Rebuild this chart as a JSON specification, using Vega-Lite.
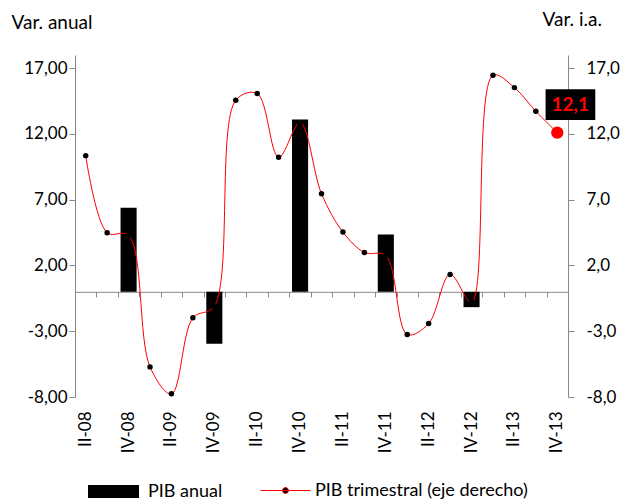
{
  "$schema": "https://vega.github.io/schema/vega-lite/v6.json",
  "autosize": {"type": "none"},
  "width": 493,
  "height": 342,
  "padding": {"left": 75, "top": 55, "right": 52, "bottom": 102},
  "background": "white",
  "config": {
    "font": "Lato",
    "view": {"stroke": null},
    "locale": {"number": {"decimal": ",", "thousands": ".", "grouping": [3], "currency": ["", " €"], "minus": "-"}},
    "axis": {"labelFont": "Lato", "titleFont": "Lato", "labelColor": "black", "titleColor": "black", "domainColor": "#888888", "tickColor": "#888888", "grid": false, "labelFontSize": 17, "titleFontSize": 19, "titleFontWeight": "normal"},
    "legend": {"labelFont": "Lato", "labelFontSize": 18, "labelColor": "black", "padding": 0, "labelLimit": 400}
  },
  "data": {"values": [
    {"q": "II-08", "trim": 10.35, "anual": null},
    {"q": "III-08", "trim": 4.49, "anual": null},
    {"q": "IV-08", "trim": 4.3, "anual": 6.39},
    {"q": "I-09", "trim": -5.71, "anual": null},
    {"q": "II-09", "trim": -7.76, "anual": null},
    {"q": "III-09", "trim": -1.98, "anual": null},
    {"q": "IV-09", "trim": -1.1, "anual": -3.96},
    {"q": "I-10", "trim": 14.56, "anual": null},
    {"q": "II-10", "trim": 15.07, "anual": null},
    {"q": "III-10", "trim": 10.22, "anual": null},
    {"q": "IV-10", "trim": 12.85, "anual": 13.1},
    {"q": "I-11", "trim": 7.46, "anual": null},
    {"q": "II-11", "trim": 4.54, "anual": null},
    {"q": "III-11", "trim": 2.99, "anual": null},
    {"q": "IV-11", "trim": 2.75, "anual": 4.36},
    {"q": "I-12", "trim": -3.25, "anual": null},
    {"q": "II-12", "trim": -2.41, "anual": null},
    {"q": "III-12", "trim": 1.32, "anual": null},
    {"q": "IV-12", "trim": -0.8, "anual": -1.17},
    {"q": "I-13", "trim": 16.46, "anual": null},
    {"q": "II-13", "trim": 15.52, "anual": null},
    {"q": "III-13", "trim": 13.72, "anual": null},
    {"q": "IV-13", "trim": 12.1, "anual": null}
  ]},
  "layer": [
    {
      "mark": {"type": "bar", "width": {"band": 0.75}},
      "encoding": {
        "x": {"field": "q", "type": "nominal",
          "scale": {"domain": ["II-08", "III-08", "IV-08", "I-09", "II-09", "III-09", "IV-09", "I-10", "II-10", "III-10", "IV-10", "I-11", "II-11", "III-11", "IV-11", "I-12", "II-12", "III-12", "IV-12", "I-13", "II-13", "III-13", "IV-13"], "paddingInner": 0, "paddingOuter": 0},
          "axis": {"orient": "bottom", "title": null, "domain": false, "ticks": false, "labelAngle": 270, "labelPadding": 14,
            "values": ["II-08", "IV-08", "II-09", "IV-09", "II-10", "IV-10", "II-11", "IV-11", "II-12", "IV-12", "II-13", "IV-13"]}},
        "y": {"field": "anual", "type": "quantitative",
          "scale": {"domain": [-8, 18], "nice": false, "zero": false},
          "axis": {"orient": "left", "values": [-8, -3, 2, 7, 12, 17], "format": ".2f", "tickSize": 6, "labelPadding": 2,
            "title": "Var. anual", "titleAngle": 0, "titleAlign": "left", "titleBaseline": "alphabetic", "titleX": -64, "titleY": -27}},
        "fill": {"datum": "PIB anual", "scale": {"range": ["black"]},
          "legend": {"orient": "none", "legendX": 12, "legendY": 410, "title": null,
            "symbolType": "M-1,-0.255H1V0.255H-1Z", "symbolSize": 2601, "labelOffset": 8}}
      }
    },
    {
      "mark": {"type": "line", "strokeWidth": 1, "interpolate": "catmull-rom"},
      "encoding": {
        "x": {"field": "q", "type": "nominal",
          "axis": {"orient": "bottom", "title": null, "labels": false, "tickBand": "extent", "tickSize": 5, "offset": -105.2}},
        "y": {"field": "trim", "type": "quantitative",
          "scale": {"domain": [-8, 18], "nice": false, "zero": false},
          "axis": {"orient": "right", "values": [-8, -3, 2, 7, 12, 17], "format": ".1f", "tickSize": 6, "labelPadding": 12,
            "title": "Var. i.a.", "titleAngle": 0, "titleAlign": "left", "titleBaseline": "alphabetic", "titleX": -26, "titleY": -30}},
        "stroke": {"datum": "PIB trimestral (eje derecho)", "scale": {"range": ["red"]},
          "legend": {"orient": "none", "legendX": 185, "legendY": 410, "title": null,
            "symbolType": "M-1,0H1M0.12,0A0.12,0.12,0,1,1,-0.12,0A0.12,0.12,0,1,1,0.12,0Z", "symbolSize": 2500,
            "symbolStrokeWidth": 1, "labelOffset": 4,
            "encode": {"symbols": {"update": {"fill": {"value": "black"}, "stroke": {"value": "red"}}}}}}
      }
    },
    {
      "mark": {"type": "point", "filled": true, "color": "black", "size": 30, "opacity": 1},
      "encoding": {
        "x": {"field": "q", "type": "nominal", "axis": null},
        "y": {"field": "trim", "type": "quantitative", "scale": {"domain": [-8, 18], "nice": false, "zero": false}, "axis": null}
      }
    },
    {
      "transform": [{"filter": "datum.q == 'IV-13'"}],
      "mark": {"type": "point", "filled": true, "color": "red", "size": 154, "opacity": 1},
      "encoding": {
        "x": {"field": "q", "type": "nominal", "axis": null},
        "y": {"field": "trim", "type": "quantitative", "scale": {"domain": [-8, 18], "nice": false, "zero": false}, "axis": null}
      }
    },
    {
      "transform": [{"filter": "datum.q == 'IV-13'"}],
      "mark": {"type": "point", "filled": true, "color": "black", "size": 10000, "opacity": 1,
        "shape": "M-0.234,-0.866H0.76V-0.252H-0.234Z"},
      "encoding": {
        "x": {"field": "q", "type": "nominal", "axis": null},
        "y": {"field": "trim", "type": "quantitative", "scale": {"domain": [-8, 18], "nice": false, "zero": false}, "axis": null}
      }
    },
    {
      "transform": [{"filter": "datum.q == 'IV-13'"}],
      "mark": {"type": "text", "color": "red", "fontWeight": "bold", "fontSize": 19, "dx": 13, "dy": -28, "align": "center", "baseline": "middle"},
      "encoding": {
        "x": {"field": "q", "type": "nominal", "axis": null},
        "y": {"field": "trim", "type": "quantitative", "scale": {"domain": [-8, 18], "nice": false, "zero": false}, "axis": null},
        "text": {"field": "trim", "type": "quantitative", "format": ".1f"}
      }
    }
  ],
  "resolve": {"scale": {"y": "independent"}, "axis": {"x": "independent"}}
}
